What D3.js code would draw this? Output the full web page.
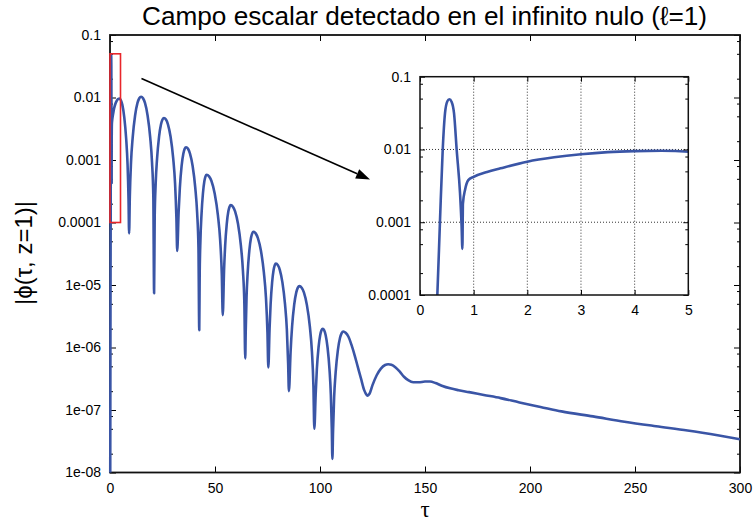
<!DOCTYPE html>
<html>
<head>
<meta charset="utf-8">
<script src="https://cdn.jsdelivr.net/npm/d3@7"></script>
<style>
  html, body { margin: 0; padding: 0; background: #fff; }
  svg { display: block; font-family: "Liberation Sans", Arial, Helvetica, sans-serif; }
</style>
</head>
<body>
<svg id="chart" width="755" height="525"></svg>
<script>
// |phi(tau, z=1)| sampled along tau
const tau = [
  0, 0.12, 0.2, 0.27, 0.323, 0.373, 0.423, 0.466, 0.51, 0.547, 0.59, 0.634, 0.684, 0.746, 0.775, 0.79,
  0.80, 0.84, 0.90, 1.0, 1.25, 1.5, 2.0, 2.5, 3.0, 3.5, 4.0, 4.5,
  5.19, 5.88, 6.8, 7.72, 8.36, 8.82, 9.1,
  9.44, 10.01, 10.81, 11.95, 13.09, 13.95, 14.8, 15.73, 16.66, 17.9, 19.14, 20.01, 20.63, 21.0,
  21.28, 21.75, 22.41, 23.35, 24.29, 25.0, 25.7, 26.65, 27.59, 28.85, 30.11, 30.99, 31.62, 32.0,
  32.67, 33.26, 34.1, 34.94, 35.57, 36.2, 37.15, 38.09, 39.35, 40.61, 41.49, 42.12, 42.5,
  42.71, 43.06, 43.55, 44.25, 44.95, 45.48, 46.0, 47.16, 48.31, 49.85, 51.39, 52.47, 53.24, 53.7,
  54.31, 54.84, 55.6, 56.36, 56.93, 57.5, 58.54, 59.57, 60.95, 62.33, 63.3, 63.99, 64.4,
  64.63, 65.02, 65.57, 66.35, 67.13, 67.72, 68.3, 69.37, 70.43, 71.85, 73.27, 74.26, 74.97, 75.4,
  75.98, 76.48, 77.2, 77.92, 78.46, 79.0, 79.93, 80.86, 82.1, 83.34, 84.21, 84.83, 85.2,
  86.0, 86.7, 87.7, 88.7, 89.45, 90.2, 91.27, 92.33, 93.75, 95.17, 96.16, 96.87, 97.3,
  97.94, 98.5, 99.3, 100.1, 100.7, 101.3, 101.99, 102.68, 103.6, 104.52, 105.16, 105.62, 105.9,
  106.21, 106.73, 107.46, 108.5, 109.54, 110.32, 111.1, 112.2, 113.5, 115, 116.5, 118, 119.5, 121,
  122.2, 122.7, 123.5, 125, 127, 129, 131, 132.5, 134, 136, 138, 140, 142, 144.4, 147, 150, 152.4,
  155, 158, 162, 166, 171, 178, 186, 195, 205, 215, 230, 245, 260, 275, 290, 300
];
const phiAbs = [
  1e-10, 1e-8, 1e-6, 2e-5, 1e-4, 1.07e-3, 9.8e-3, 0.0315, 0.046, 0.049, 0.045, 0.0315, 0.0098, 0.0025, 9e-4, 4.3e-4,
  1.8e-3, 2.8e-3, 3.8e-3, 4.2e-3, 4.9e-3, 5.5e-3, 6.8e-3, 7.8e-3, 8.6e-3, 9.2e-3, 9.5e-3, 9.6e-3,
  9.06e-3, 7.62e-3, 4.81e-3, 2.15e-3, 8.55e-4, 2.41e-4, 6.7e-5,
  2.59e-4, 9.18e-4, 2.31e-3, 5.16e-3, 8.18e-3, 9.72e-3, 1.03e-2, 9.72e-3, 8.18e-3, 5.16e-3, 2.31e-3, 9.18e-4, 2.59e-4, 7.4e-6,
  1.18e-4, 4.19e-4, 1.05e-3, 2.35e-3, 3.73e-3, 4.44e-3, 4.7e-3, 4.44e-3, 3.73e-3, 2.35e-3, 1.05e-3, 4.19e-4, 1.18e-4, 3.5e-5,
  1.43e-4, 3.58e-4, 8.02e-4, 1.27e-3, 1.51e-3, 1.6e-3, 1.51e-3, 1.27e-3, 8.02e-4, 3.58e-4, 1.43e-4, 4.02e-5, 1.9e-6,
  1.46e-5, 5.17e-5, 1.3e-4, 2.91e-4, 4.61e-4, 5.48e-4, 5.8e-4, 5.48e-4, 4.61e-4, 2.91e-4, 1.3e-4, 5.17e-5, 1.46e-5, 3.3e-6,
  1.69e-5, 4.26e-5, 9.52e-5, 1.51e-4, 1.79e-4, 1.9e-4, 1.79e-4, 1.51e-4, 9.52e-5, 4.26e-5, 1.69e-5, 4.77e-6, 6.7e-7,
  1.78e-6, 6.33e-6, 1.59e-5, 3.56e-5, 5.64e-5, 6.7e-5, 7.1e-5, 6.7e-5, 5.64e-5, 3.56e-5, 1.59e-5, 6.33e-6, 1.78e-6, 4.8e-7,
  1.96e-6, 4.93e-6, 1.1e-5, 1.75e-5, 2.08e-5, 2.2e-5, 2.08e-5, 1.75e-5, 1.1e-5, 4.93e-6, 1.96e-6, 5.52e-7, 2.0e-7,
  8.55e-7, 2.15e-6, 4.81e-6, 7.62e-6, 9.06e-6, 9.6e-6, 9.06e-6, 7.62e-6, 4.81e-6, 2.15e-6, 8.55e-7, 2.41e-7, 5.0e-8,
  1.78e-7, 4.48e-7, 1.0e-6, 1.59e-6, 1.89e-6, 2.0e-6, 1.89e-6, 1.59e-6, 1.0e-6, 4.48e-7, 1.78e-7, 5.02e-8, 1.65e-8,
  4.52e-8, 1.6e-7, 4.03e-7, 9.02e-7, 1.43e-6, 1.7e-6, 1.8e-6, 1.72e-6, 1.5e-6, 1.1e-6, 7.5e-7, 4.9e-7, 3.2e-7, 2.1e-7,
  1.75e-7, 1.7e-7, 1.8e-7, 2.5e-7, 3.6e-7, 4.6e-7, 5.25e-7, 5.4e-7, 5.3e-7, 4.8e-7, 4.1e-7, 3.4e-7, 3.0e-7, 2.78e-7, 2.78e-7, 2.85e-7, 2.85e-7,
  2.7e-7, 2.45e-7, 2.22e-7, 2.07e-7, 1.93e-7, 1.74e-7, 1.55e-7, 1.32e-7, 1.12e-7, 9.5e-8, 7.9e-8, 6.5e-8, 5.5e-8, 4.7e-8, 3.9e-8, 3.4e-8
];

const xTicks = [0, 50, 100, 150, 200, 250, 300];
const yTicks = [1e-8, 1e-7, 1e-6, 1e-5, 1e-4, 1e-3, 1e-2, 1e-1];
const yTickLabels = ["1e-08", "1e-07", "1e-06", "1e-05", "0.0001", "0.001", "0.01", "0.1"];
const insetXTicks = [0, 1, 2, 3, 4, 5];
const insetYTicks = [1e-4, 1e-3, 1e-2, 1e-1];
const insetYTickLabels = ["0.0001", "0.001", "0.01", "0.1"];
const minorMantissas = [2, 5, 8];
const zoomTau = [0, 5];
const zoomPhi = [1e-4, 0.05];

const titleText = "Campo escalar detectado en el infinito nulo (\u2113=1)";
const yTitle = "|\u03D5(\u03C4, z=1)|";
const xTitle = "\u03C4";

const curveColor = "#3a55a6";
const svg = d3.select("#chart");
const defs = svg.append("defs");

svg.append("rect").attr("width", 755).attr("height", 525).attr("fill", "#fff");

const points = tau.map((t, i) => [t, phiAbs[i]]);

function minorValues(majors) {
  const out = [];
  for (let i = 0; i < majors.length - 1; i++)
    minorMantissas.forEach(m => out.push(m * majors[i]));
  return out;
}

// Framed log-scale panel with inward ticks on all four sides
function drawFrame(g, xs, ys, xt, yt, yLabels, opt) {
  const [x0, x1] = xs.range();
  const [y0, y1] = ys.range(); // bottom, top
  const tickStyle = sel => {
    sel.select(".domain").remove();
    sel.selectAll("line").attr("stroke", "#000").attr("stroke-width", 1);
    sel.selectAll("text").attr("fill", "#000").attr("font-size", opt.fontSize)
      .attr("font-family", "'Liberation Sans', Arial, sans-serif");
  };
  g.append("g").attr("transform", `translate(0,${y0})`)
    .call(d3.axisBottom(xs).tickValues(xt).tickSize(-opt.major).tickPadding(opt.xPad)
      .tickFormat(opt.xFormat))
    .call(tickStyle);
  g.append("g").attr("transform", `translate(0,${y1})`)
    .call(d3.axisTop(xs).tickValues(xt).tickSize(-opt.major).tickFormat(""))
    .call(tickStyle);
  g.append("g").attr("transform", `translate(${x0},0)`)
    .call(d3.axisLeft(ys).tickValues(yt).tickSize(-opt.major).tickPadding(opt.yPad)
      .tickFormat((d, i) => yLabels[i]))
    .call(tickStyle);
  g.append("g").attr("transform", `translate(${x0},0)`)
    .call(d3.axisLeft(ys).tickValues(minorValues(yt)).tickSize(-opt.minor).tickFormat(""))
    .call(tickStyle);
  g.append("g").attr("transform", `translate(${x1},0)`)
    .call(d3.axisRight(ys).tickValues(yt).tickSize(-opt.major).tickFormat(""))
    .call(tickStyle);
  g.append("g").attr("transform", `translate(${x1},0)`)
    .call(d3.axisRight(ys).tickValues(minorValues(yt)).tickSize(-opt.minor).tickFormat(""))
    .call(tickStyle);
  g.append("rect")
    .attr("x", x0).attr("y", y1).attr("width", x1 - x0).attr("height", y0 - y1)
    .attr("fill", "none").attr("stroke", "#111").attr("stroke-width", opt.frame);
}

// ---------- main panel ----------
const x = d3.scaleLinear().domain([0, 300]).range([110, 740]);
const y = d3.scaleLog().domain([1e-8, 0.1]).range([472.5, 35]);

const mainG = svg.append("g");
drawFrame(mainG, x, y, xTicks, yTicks, yTickLabels,
  { major: 6, minor: 3, xPad: 10.5, yPad: 9, fontSize: 14, frame: 1.8, xFormat: d3.format("d") });

defs.append("clipPath").attr("id", "clipMain").append("rect")
  .attr("x", 108).attr("y", 35).attr("width", 632).attr("height", 437.5);

const line = d3.line().x(d => x(d[0])).y(d => y(d[1])).curve(d3.curveMonotoneX);
mainG.append("path")
  .datum(points)
  .attr("clip-path", "url(#clipMain)")
  .attr("d", line)
  .attr("fill", "none").attr("stroke", curveColor).attr("stroke-width", 2.6)
  .attr("stroke-linejoin", "round");

// zoom box marking the inset region
mainG.append("rect")
  .attr("x", x(zoomTau[0])).attr("y", y(zoomPhi[1]))
  .attr("width", x(zoomTau[1]) - x(zoomTau[0]))
  .attr("height", y(zoomPhi[0]) - y(zoomPhi[1]))
  .attr("fill", "none").attr("stroke", "#e8262b").attr("stroke-width", 1.6);

// arrow pointing to the inset
(function () {
  const sx = 141.5, sy = 78.5, ex = 370, ey = 179.5;
  const ang = Math.atan2(ey - sy, ex - sx), L = 14, hw = 5;
  const bx = ex - L * Math.cos(ang), by = ey - L * Math.sin(ang);
  svg.append("line").attr("x1", sx).attr("y1", sy).attr("x2", bx).attr("y2", by)
    .attr("stroke", "#000").attr("stroke-width", 1.6);
  const px = -Math.sin(ang) * hw, py = Math.cos(ang) * hw;
  svg.append("path")
    .attr("d", `M${ex},${ey}L${bx + px},${by + py}L${bx - px},${by - py}Z`)
    .attr("fill", "#000");
})();

// ---------- inset ----------
const xi = d3.scaleLinear().domain([0, 5]).range([420, 688.3]);
const yi = d3.scaleLog().domain([1e-4, 0.1]).range([295, 76.7]);
const insetG = svg.append("g");
insetG.append("rect").attr("x", 420).attr("y", 76.7).attr("width", 268.3).attr("height", 218.3)
  .attr("fill", "#fff");

// dotted grid
insetG.selectAll(".gx").data(insetXTicks.slice(1, -1)).enter().append("line")
  .attr("x1", d => xi(d)).attr("x2", d => xi(d)).attr("y1", 76.7).attr("y2", 295)
  .attr("stroke", "#333").attr("stroke-width", 1).attr("stroke-dasharray", "1,2");
insetG.selectAll(".gy").data(insetYTicks.slice(1, -1)).enter().append("line")
  .attr("y1", d => yi(d)).attr("y2", d => yi(d)).attr("x1", 420).attr("x2", 688.3)
  .attr("stroke", "#333").attr("stroke-width", 1).attr("stroke-dasharray", "1,2");

defs.append("clipPath").attr("id", "clipInset").append("rect")
  .attr("x", 420).attr("y", 76.7).attr("width", 268.3).attr("height", 218.3);

const lineInset = d3.line().x(d => xi(d[0])).y(d => yi(d[1])).curve(d3.curveMonotoneX);
insetG.append("path")
  .datum(points.filter(d => d[0] <= 6))
  .attr("clip-path", "url(#clipInset)")
  .attr("d", lineInset)
  .attr("fill", "none").attr("stroke", curveColor).attr("stroke-width", 2.6)
  .attr("stroke-linejoin", "round");

drawFrame(insetG, xi, yi, insetXTicks, insetYTicks, insetYTickLabels,
  { major: 5, minor: 3, xPad: 10, yPad: 9, fontSize: 14, frame: 1.5, xFormat: d3.format("d") });

// ---------- titles ----------
svg.append("text")
  .attr("x", 142).attr("y", 25)
  .attr("font-size", 26)
  .attr("textLength", 565).attr("lengthAdjust", "spacingAndGlyphs")
  .attr("fill", "#000")
  .text(titleText);

svg.append("text")
  .attr("transform", "translate(32,253) rotate(-90)")
  .attr("text-anchor", "middle")
  .attr("font-size", 24)
  .attr("fill", "#000")
  .text(yTitle);

svg.append("text")
  .attr("x", 425).attr("y", 517)
  .attr("text-anchor", "middle")
  .attr("font-size", 23)
  .attr("font-family", "'Liberation Serif', 'Times New Roman', serif")
  .attr("fill", "#000")
  .text(xTitle);
</script>
</body>
</html>
